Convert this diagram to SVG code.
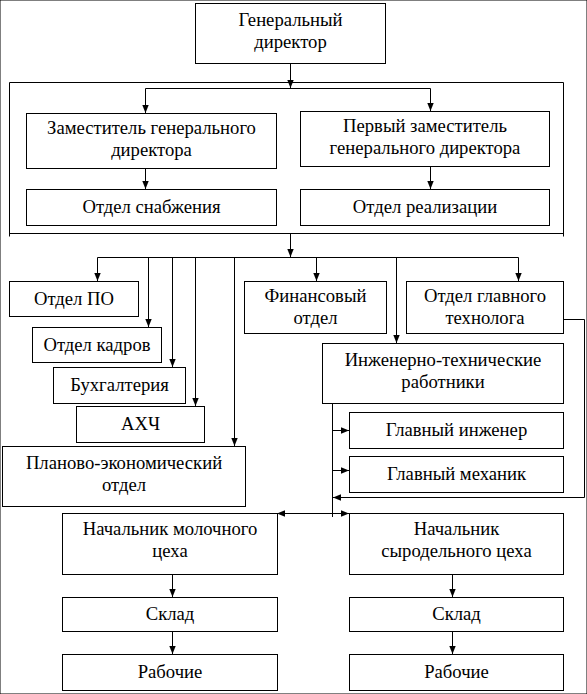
<svg xmlns="http://www.w3.org/2000/svg" width="587" height="694" viewBox="0 0 587 694">
<defs>
<style>
rect{fill:#fff;stroke:#000;stroke-width:1}
text{font-family:"Liberation Serif","Times New Roman",serif;font-size:18.67px;fill:#000;text-anchor:middle}
.c path,.c line{fill:none;stroke:#000;stroke-width:1}
.frame{fill:none;stroke:#000;stroke-width:1}
</style>
<marker id="a" viewBox="0 0 8 8" refX="8" refY="4" markerWidth="8" markerHeight="8" markerUnits="userSpaceOnUse" orient="auto-start-reverse">
<path d="M0,0.8 L8,4 L0,7.2 z" fill="#000"/>
</marker>
</defs>
<rect width="587" height="694" fill="#fff" stroke="none"/>
<path class="frame" d="M9.5,236.5 V82.5 H563.5 V236.5 M9.5,233.5 H563.5"/>
<g class="c">
<line x1="290.5" y1="63" x2="290.5" y2="88" marker-end="url(#a)"/>
<line x1="145.5" y1="88.5" x2="430.5" y2="88.5"/>
<line x1="145.5" y1="88.5" x2="145.5" y2="113" marker-end="url(#a)"/>
<line x1="430.5" y1="88.5" x2="430.5" y2="111" marker-end="url(#a)"/>
<line x1="145.5" y1="168" x2="145.5" y2="189" marker-end="url(#a)"/>
<line x1="430.5" y1="166" x2="430.5" y2="189" marker-end="url(#a)"/>
<line x1="290.5" y1="234" x2="290.5" y2="257" marker-end="url(#a)"/>
<line x1="97.5" y1="257.5" x2="518.5" y2="257.5"/>
<line x1="97.5" y1="257.5" x2="97.5" y2="281" marker-end="url(#a)"/>
<line x1="148.5" y1="257.5" x2="148.5" y2="327" marker-end="url(#a)"/>
<line x1="172.5" y1="257.5" x2="172.5" y2="367" marker-end="url(#a)"/>
<line x1="195.5" y1="257.5" x2="195.5" y2="406" marker-end="url(#a)"/>
<line x1="234.5" y1="257.5" x2="234.5" y2="446" marker-end="url(#a)"/>
<line x1="316.5" y1="257.5" x2="316.5" y2="281" marker-end="url(#a)"/>
<line x1="396.5" y1="257.5" x2="396.5" y2="343" marker-end="url(#a)"/>
<line x1="518.5" y1="257.5" x2="518.5" y2="281" marker-end="url(#a)"/>
<path d="M563,319.5 H584.5 V497.5 H333" marker-end="url(#a)"/>
<line x1="332.5" y1="403" x2="332.5" y2="517"/>
<line x1="332.5" y1="430.5" x2="349" y2="430.5" marker-end="url(#a)"/>
<line x1="332.5" y1="470.5" x2="349" y2="470.5" marker-end="url(#a)"/>
<line x1="277" y1="513.5" x2="349" y2="513.5" marker-start="url(#a)" marker-end="url(#a)"/>
<line x1="172.5" y1="574" x2="172.5" y2="597" marker-end="url(#a)"/>
<line x1="172.5" y1="631" x2="172.5" y2="654" marker-end="url(#a)"/>
<line x1="452.5" y1="574" x2="452.5" y2="597" marker-end="url(#a)"/>
<line x1="452.5" y1="631" x2="452.5" y2="654" marker-end="url(#a)"/>
</g>
<g id="gen"><rect x="195.5" y="3.5" width="190" height="60"/><text x="290.5" y="26">Генеральный</text><text x="290.5" y="48">директор</text></g>
<g id="zam"><rect x="26.5" y="113.5" width="250" height="55"/><text x="151.5" y="134">Заместитель генерального</text><text x="151.5" y="156">директора</text></g>
<g id="perv"><rect x="300.5" y="111.5" width="249" height="55"/><text x="425" y="132">Первый заместитель</text><text x="425" y="154">генерального директора</text></g>
<g id="snab"><rect x="26.5" y="189.5" width="250" height="36"/><text x="151.5" y="213">Отдел снабжения</text></g>
<g id="real"><rect x="300.5" y="189.5" width="249" height="36"/><text x="425" y="213">Отдел реализации</text></g>
<g id="po"><rect x="9.5" y="281.5" width="129" height="35"/><text x="74" y="305">Отдел ПО</text></g>
<g id="kadry"><rect x="32.5" y="327.5" width="129" height="35"/><text x="97" y="351">Отдел кадров</text></g>
<g id="buh"><rect x="53.5" y="367.5" width="132" height="36"/><text x="119.5" y="391">Бухгалтерия</text></g>
<g id="ahch"><rect x="76.5" y="406.5" width="128" height="36"/><text x="140.5" y="430">АХЧ</text></g>
<g id="plan"><rect x="2.5" y="446.5" width="243" height="60"/><text x="124" y="469">Планово-экономический</text><text x="124" y="491">отдел</text></g>
<g id="fin"><rect x="244.5" y="281.5" width="142" height="52"/><text x="315.5" y="302">Финансовый</text><text x="315.5" y="324">отдел</text></g>
<g id="tech"><rect x="406.5" y="281.5" width="157" height="52"/><text x="485" y="302">Отдел главного</text><text x="485" y="324">технолога</text></g>
<g id="itr"><rect x="322.5" y="343.5" width="241" height="60"/><text x="443" y="366">Инженерно-технические</text><text x="443" y="388">работники</text></g>
<g id="ing"><rect x="349.5" y="412.5" width="214" height="36"/><text x="456.5" y="436">Главный инженер</text></g>
<g id="meh"><rect x="349.5" y="456.5" width="214" height="36"/><text x="456.5" y="480">Главный механик</text></g>
<g id="molo"><rect x="62.5" y="513.5" width="215" height="61"/><text x="170" y="535">Начальник молочного</text><text x="170" y="557">цеха</text></g>
<g id="syr"><rect x="349.5" y="513.5" width="214" height="61"/><text x="456.5" y="535">Начальник</text><text x="456.5" y="557">сыродельного цеха</text></g>
<g id="skl1"><rect x="62.5" y="597.5" width="215" height="34"/><text x="170" y="620">Склад</text></g>
<g id="rab1"><rect x="62.5" y="654.5" width="215" height="36"/><text x="170" y="678">Рабочие</text></g>
<g id="skl2"><rect x="349.5" y="597.5" width="214" height="34"/><text x="456.5" y="620">Склад</text></g>
<g id="rab2"><rect x="349.5" y="654.5" width="214" height="36"/><text x="456.5" y="678">Рабочие</text></g>
</svg>
